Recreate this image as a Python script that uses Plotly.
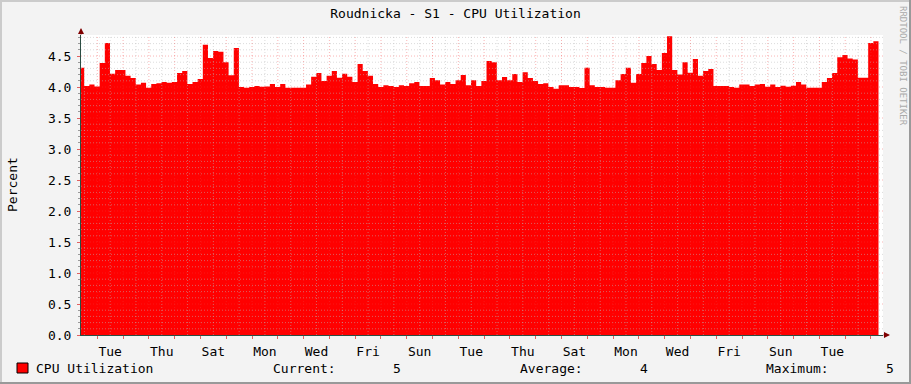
import plotly.graph_objects as go

# ---------------- data ----------------
TITLE = "Roudnicka - S1 - CPU Utilization"
Y_TITLE = "Percent"
SERIES_NAME = "CPU Utilization"
WATERMARK = "RRDTOOL / TOBI OETIKER"

# day labels, every second day, centred on noon (days counted from first Tue 00:00)
DAY_LABELS = ["Tue", "Thu", "Sat", "Mon", "Wed", "Fri", "Sun", "Tue",
              "Thu", "Sat", "Mon", "Wed", "Fri", "Sun", "Tue"]
Y_TICKS = [0.0, 0.5, 1.0, 1.5, 2.0, 2.5, 3.0, 3.5, 4.0, 4.5]

START_HOUR = -17.0   # first sample, hours relative to first labelled Tuesday 00:00
STEP_HOURS = 4.8     # consolidation step

CPU = [
    4.31, 4.016, 4.04, 4.01, 4.387, 4.71, 4.215, 4.274, 4.274, 4.18,
    4.145, 4.04, 4.07, 3.99, 4.05, 4.06, 4.08, 4.07, 4.08, 4.226,
    4.26, 4.05, 4.08, 4.13, 4.68, 4.47, 4.58, 4.57, 4.40, 4.19,
    4.63, 4.00, 3.99, 4.00, 4.016, 4.005, 4.01, 4.05, 4.00,
    4.05, 3.99, 3.99, 3.99, 3.99, 4.04, 4.166, 4.226, 4.097, 4.18,
    4.26, 4.15, 4.215, 4.166, 4.08, 4.37, 4.26, 4.18, 4.05, 4.00,
    4.03, 4.016, 4.00, 4.03, 4.016, 4.06, 4.08, 4.016, 4.016, 4.145,
    4.108, 4.04, 4.08, 4.05, 4.108, 4.194, 4.03, 4.11, 4.016,
    4.097, 4.42, 4.40, 4.11, 4.16, 4.11, 4.21, 4.08, 4.24, 4.145,
    4.097, 4.05, 4.06, 4.00, 3.973, 4.03, 4.03, 4.00, 4.00, 3.985,
    4.31, 4.03, 4.00, 4.00, 3.99, 3.99, 4.11, 4.21, 4.31, 4.07,
    4.21, 4.387, 4.50, 4.37, 4.274, 4.55, 4.82, 4.274, 4.20,
    4.40, 4.23, 4.45, 4.18, 4.26, 4.29, 4.016, 4.016, 4.016, 4.00,
    3.99, 4.04, 4.04, 4.016, 4.04, 4.05, 4.005, 4.04, 4.00, 4.02,
    4.005, 4.02, 4.08, 4.04, 3.99, 3.99, 3.99, 4.08, 4.145, 4.226,
    4.48, 4.516, 4.46, 4.445, 4.15, 4.15, 4.71, 4.74,
]

# ---------------- geometry ----------------
W, H = 911, 384
L, R, T, B = 81, 883, 35, 335
X_RANGE = [-0.632, 30.466]
Y_RANGE = [0, 4.839]

FONT = "DejaVu Sans Mono"
RED = "#FF0000"
GRID = "rgba(185,185,185,0.5)"
MGRID = "rgba(240,60,60,0.38)"
AXIS = "#2C4D43"
ARROW = "#7F0000"


def px_x(p):
    return (p - L) / (R - L)


def px_y(p):
    return (B - p) / (B - T)


xs = [(START_HOUR + i * STEP_HOURS) / 24.0 for i in range(len(CPU) + 1)]
ys = CPU + [CPU[-1]]

fig = go.Figure()
fig.add_trace(go.Scatter(
    x=xs, y=ys, mode="lines", line=dict(shape="hv", width=0, color=RED),
    fill="tozeroy", fillcolor=RED, name=SERIES_NAME, showlegend=False,
    hoverinfo="skip",
))

shapes = []
# horizontal grid (over the data, as rrdtool does)
i = 1
while i * 0.1 < Y_RANGE[1]:
    v = round(i * 0.1, 2)
    major = (i % 5 == 0)
    shapes.append(dict(type="line", xref="paper", yref="y", x0=0, x1=1, y0=v, y1=v,
                       line=dict(color=MGRID if major else GRID, width=1, dash="1px,2px"),
                       layer="above"))
    i += 1
# vertical grid: minor every 12 h, major every day
k = int(X_RANGE[0] * 2)
while k * 0.5 <= X_RANGE[1]:
    v = k * 0.5
    if v > X_RANGE[0]:
        major = (k % 2 == 0)
        shapes.append(dict(type="line", xref="x", yref="paper", x0=v, x1=v, y0=0, y1=1,
                           line=dict(color=MGRID if major else GRID, width=1, dash="1px,2px"),
                           layer="above"))
    k += 1

# legend swatch
shapes.append(dict(type="rect", xref="paper", yref="paper",
                   x0=px_x(17), x1=px_x(28), y0=px_y(373), y1=px_y(363),
                   fillcolor=RED, line=dict(color="black", width=1), layer="above"))
# 3D frame of the image
shapes.append(dict(type="rect", xref="paper", yref="paper", x0=px_x(0), x1=px_x(2),
                   y0=px_y(384), y1=px_y(0), fillcolor="#CBCBCB", line=dict(width=0)))
shapes.append(dict(type="rect", xref="paper", yref="paper", x0=px_x(0), x1=px_x(911),
                   y0=px_y(2), y1=px_y(0), fillcolor="#CBCBCB", line=dict(width=0)))
shapes.append(dict(type="rect", xref="paper", yref="paper", x0=px_x(909), x1=px_x(911),
                   y0=px_y(384), y1=px_y(0), fillcolor="#999999", line=dict(width=0)))
shapes.append(dict(type="rect", xref="paper", yref="paper", x0=px_x(0), x1=px_x(911),
                   y0=px_y(384), y1=px_y(382), fillcolor="#999999", line=dict(width=0)))

current = "{:.0f}".format(CPU[-1])
average = "{:.0f}".format(sum(CPU) / len(CPU))
maximum = "{:.0f}".format(max(CPU))

txt = dict(family=FONT, size=13, color="black")
ly = px_y(368)
annotations = [
    dict(text=Y_TITLE, xref="paper", yref="paper", x=px_x(12), y=px_y(185),
         textangle=-90, showarrow=False, font=txt, xanchor="center", yanchor="middle"),
    dict(text=WATERMARK, xref="paper", yref="paper", x=px_x(903), y=px_y(66),
         textangle=90, showarrow=False, font=dict(family=FONT, size=9, color="#AAAAAA"),
         xanchor="center", yanchor="middle"),
    dict(text=SERIES_NAME, xref="paper", yref="paper", x=px_x(34), y=ly,
         showarrow=False, font=txt, xanchor="left", yanchor="middle"),
    dict(text="Current:", xref="paper", yref="paper", x=px_x(271), y=ly,
         showarrow=False, font=txt, xanchor="left", yanchor="middle"),
    dict(text=current, xref="paper", yref="paper", x=px_x(397), y=ly,
         showarrow=False, font=txt, xanchor="center", yanchor="middle"),
    dict(text="Average:", xref="paper", yref="paper", x=px_x(518), y=ly,
         showarrow=False, font=txt, xanchor="left", yanchor="middle"),
    dict(text=average, xref="paper", yref="paper", x=px_x(643.5), y=ly,
         showarrow=False, font=txt, xanchor="center", yanchor="middle"),
    dict(text="Maximum:", xref="paper", yref="paper", x=px_x(764), y=ly,
         showarrow=False, font=txt, xanchor="left", yanchor="middle"),
    dict(text=maximum, xref="paper", yref="paper", x=px_x(889.5), y=ly,
         showarrow=False, font=txt, xanchor="center", yanchor="middle"),
    # axis arrows
    dict(text="", xref="paper", yref="paper", x=px_x(81), y=px_y(28), ax=0, ay=8,
         showarrow=True, arrowhead=2, arrowsize=1.2, arrowwidth=1, arrowcolor=ARROW),
    dict(text="", xref="paper", yref="paper", x=px_x(890), y=px_y(335), ax=-8, ay=0,
         showarrow=True, arrowhead=2, arrowsize=1.2, arrowwidth=1, arrowcolor=ARROW),
]

label_pos = [0.5 + 2 * j for j in range(len(DAY_LABELS))]
midnights = [float(d) for d in range(0, 31) if X_RANGE[0] < d < X_RANGE[1]]

fig.update_layout(
    width=W, height=H,
    margin=dict(l=L, r=W - R, t=T, b=H - B, pad=0),
    paper_bgcolor="#F3F3F3", plot_bgcolor="white",
    font=dict(family=FONT, size=13, color="black"),
    title=dict(text=TITLE, x=0.5, xref="container", xanchor="center",
               y=1 - 13.5 / H, yref="container", yanchor="middle",
               font=dict(family=FONT, size=13, color="black")),
    showlegend=False,
    shapes=shapes,
    annotations=annotations,
    xaxis=dict(range=X_RANGE, showgrid=False, zeroline=False,
               tickmode="array", tickvals=label_pos, ticktext=DAY_LABELS,
               ticks="", ticklabelstandoff=4,
               showline=True, linecolor=AXIS, linewidth=1, layer="above traces",
               minor=dict(tickmode="array", tickvals=midnights, ticks="outside",
                          ticklen=3, tickcolor="#E06060", tickwidth=1, showgrid=False),
               fixedrange=True),
    yaxis=dict(range=Y_RANGE, showgrid=False, zeroline=False,
               tickmode="array", tickvals=Y_TICKS,
               ticktext=["{:.1f}".format(v) for v in Y_TICKS],
               ticks="outside", ticklen=3, tickcolor="#E06060", tickwidth=1,
               ticklabelstandoff=3,
               showline=True, linecolor=AXIS, linewidth=1, layer="above traces",
               minor=dict(dtick=0.1, ticks="outside", ticklen=2, tickcolor="#999999",
                          showgrid=False),
               fixedrange=True),
)

fig.write_html("out.html")
